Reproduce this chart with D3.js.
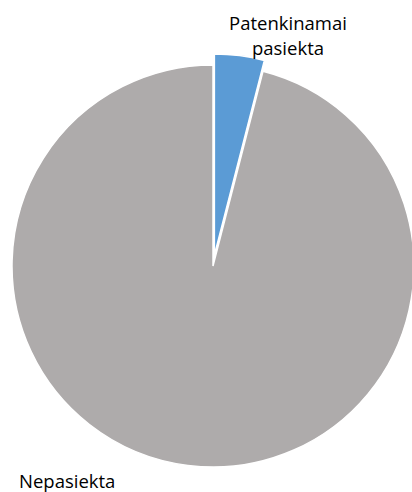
<!DOCTYPE html>
<html><head><meta charset="utf-8">
<script src="https://cdn.jsdelivr.net/npm/d3@7"></script>
<style>body{margin:0;background:#fff}svg{display:block}</style>
</head><body>
<script>
const categories = ["Patenkinamai pasiekta", "Nepasiekta"];
const values = [4, 96];
const colors = ["#5B9BD5", "#AEABAB"];

const W = 412, H = 492;
const cx = 213, cy = 266, r = 201, explode = 11;
const svg = d3.select("body").append("svg").attr("width", W).attr("height", H);

const pie = d3.pie().sort(null).value(d => d)(values);
const arc = d3.arc().innerRadius(0).outerRadius(r);
const g = svg.append("g").attr("transform", `translate(${cx},${cy})`);

g.selectAll("path").data(pie).enter().append("path")
  .attr("d", arc)
  .attr("fill", (d, i) => colors[i])
  .attr("stroke", "#fff").attr("stroke-width", 1.5)
  .attr("transform", (d, i) => {
    if (i !== 0) return null;
    const a = (d.startAngle + d.endAngle) / 2;
    return `translate(${explode * Math.sin(a)},${-explode * Math.cos(a)})`;
  });

const font = "Open Sans, sans-serif";
const t1 = svg.append("text").attr("x", 288).attr("y", 30)
  .attr("text-anchor", "middle").attr("font-family", font).attr("font-size", 18.5).attr("fill", "#000");
t1.append("tspan").attr("x", 288).attr("y", 30).text("Patenkinamai");
t1.append("tspan").attr("x", 288).attr("y", 55).text("pasiekta");

svg.append("text").attr("x", 19).attr("y", 488)
  .attr("font-family", font).attr("font-size", 18.5).attr("fill", "#000")
  .text(categories[1]);
</script>
</body></html>
